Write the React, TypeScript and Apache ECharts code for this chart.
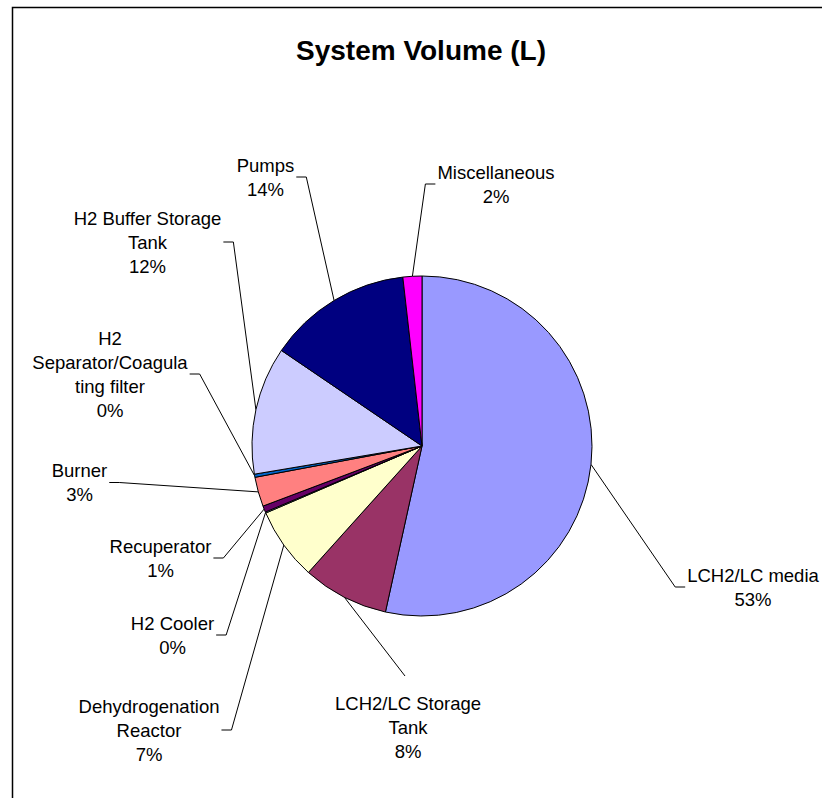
import React, { useEffect, useRef } from "react";
import * as echarts from "echarts";

// Components of the system and their share of total volume
const categories = [
  "LCH2/LC media",
  "LCH2/LC Storage\nTank",
  "Dehydrogenation\nReactor",
  "H2 Cooler",
  "Recuperator",
  "Burner",
  "H2\nSeparator/Coagula\nting filter",
  "H2 Buffer Storage\nTank",
  "Pumps",
  "Miscellaneous",
];
const volumes = [53.45, 8.2, 6.9, 0.1, 0.6, 2.8, 0.3, 12.15, 13.7, 1.8];
const sliceColors = [
  "#9999FF",
  "#993366",
  "#FFFFCC",
  "#CCFFFF",
  "#660066",
  "#FF8080",
  "#0066CC",
  "#CCCCFF",
  "#000080",
  "#FF00FF",
];

// Where each label block sits (its centre) and on which side its leader line arrives
const labelSpots: { x: number; y: number; side: "left" | "right" | "top" }[] = [
  { x: 753, y: 587, side: "left" },
  { x: 408, y: 727, side: "top" },
  { x: 149, y: 730, side: "right" },
  { x: 172.5, y: 635, side: "right" },
  { x: 160.5, y: 558, side: "right" },
  { x: 79.5, y: 482.5, side: "right" },
  { x: 110, y: 374, side: "right" },
  { x: 147.5, y: 242, side: "right" },
  { x: 265.5, y: 177, side: "right" },
  { x: 496, y: 184, side: "left" },
];

const FONT = '"Liberation Sans", Arial, Helvetica, sans-serif';

export default function App() {
  const ref = useRef<HTMLDivElement>(null);

  useEffect(() => {
    if (!ref.current) return;
    const chart = echarts.init(ref.current, undefined, { renderer: "svg" });

    chart.setOption({
      animation: false,
      backgroundColor: "#ffffff",
      graphic: [
        {
          type: "rect",
          shape: { x: 12.5, y: 7.5, width: 1000, height: 1000 },
          style: { fill: "none", stroke: "#000", lineWidth: 1.5 },
          silent: true,
        },
        {
          type: "text",
          x: 421,
          y: 50,
          style: {
            text: "System Volume (L)",
            fill: "#000",
            fontFamily: FONT,
            fontSize: 28,
            fontWeight: "bold",
            align: "center",
            verticalAlign: "middle",
          },
          silent: true,
        },
      ],
      series: [
        {
          type: "pie",
          center: [422, 446],
          radius: 170,
          startAngle: 90,
          clockwise: true,
          avoidLabelOverlap: false,
          silent: true,
          emphasis: { disabled: true },
          itemStyle: { borderColor: "#000", borderWidth: 1 },
          data: categories.map((name, i) => ({
            name,
            value: volumes[i],
            itemStyle: { color: sliceColors[i] },
          })),
          label: {
            show: true,
            position: "outside",
            color: "#000",
            fontFamily: FONT,
            fontSize: 18.5,
            lineHeight: 24,
            align: "center",
            formatter: (p: any) => `${p.name}\n${Math.round(p.percent)}%`,
          },
          labelLine: {
            show: true,
            length: 15,
            length2: 15,
            smooth: false,
            lineStyle: { color: "#000", width: 1 },
          },
          labelLayout: (params: any) => {
            const s = labelSpots[params.dataIndex];
            const w = params.labelRect.width;
            const h = params.labelRect.height;
            const anchor = params.labelLinePoints
              ? params.labelLinePoints[0]
              : [s.x, s.y];
            let points: number[][];
            if (s.side === "right") {
              const e = s.x + w / 2 + 2;
              points = [anchor, [e + 10, s.y], [e, s.y]];
            } else if (s.side === "left") {
              const e = s.x - w / 2 - 2;
              points = [anchor, [e - 10, s.y], [e, s.y]];
            } else {
              const top = s.y - h / 2 - 15;
              points = [anchor, [s.x - 3, top]];
            }
            return {
              x: s.x,
              y: s.y,
              align: "center",
              verticalAlign: "middle",
              labelLinePoints: points,
            };
          },
        },
      ],
    });

    return () => chart.dispose();
  }, []);

  return (
    <div
      ref={ref}
      style={{ position: "absolute", left: 0, top: 0, width: 822, height: 798 }}
    />
  );
}
